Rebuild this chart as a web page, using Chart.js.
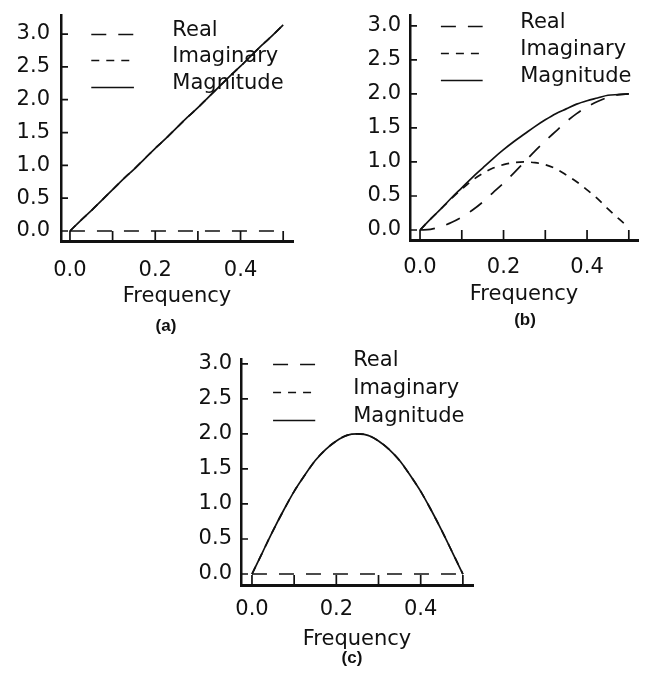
<!DOCTYPE html>
<html>
<head>
<meta charset="utf-8">
<script src="https://cdn.jsdelivr.net/npm/chart.js@4.4.1/dist/chart.umd.min.js"></script>
<style>
  body { margin: 0; background: #fff; }
  #wrap { position: relative; width: 646px; height: 674px; }
  canvas { position: absolute; }
  .cap { position: absolute; font: bold 17px "Liberation Sans", Arial, sans-serif; color: #111; transform: translate(-50%, -50%); }
</style>
</head>
<body>
<div id="wrap">
  <canvas id="chartA" width="323" height="310" style="left:0;top:0"></canvas>
  <canvas id="chartB" width="323" height="310" style="left:323px;top:0"></canvas>
  <canvas id="chartC" width="330" height="330" style="left:160px;top:330px"></canvas>
  <div class="cap" style="left:166px;top:326px">(a)</div>
  <div class="cap" style="left:525px;top:320px">(b)</div>
  <div class="cap" style="left:352px;top:658px">(c)</div>
</div>
<script>
// ----------------------
// DATA
// ----------------------

const freq = [0, 0.025, 0.05, 0.075, 0.1, 0.125, 0.15, 0.175, 0.2, 0.225, 0.25,
              0.275, 0.3, 0.325, 0.35, 0.375, 0.4, 0.425, 0.45, 0.475, 0.5];

const seriesNames = ['Real', 'Imaginary', 'Magnitude'];

const xTicks = [0, 0.1, 0.2, 0.3, 0.4, 0.5];
const xTickLabels = ['0.0', '', '0.2', '', '0.4', ''];
const yTicks = [0, 0.5, 1, 1.5, 2, 2.5, 3];
const yTickLabels = ['0.0', '0.5', '1.0', '1.5', '2.0', '2.5', '3.0'];

// (a)
const realA = [0, 0, 0, 0, 0, 0, 0, 0, 0, 0, 0, 0, 0, 0, 0, 0, 0, 0, 0, 0, 0];
const imagA = [0, 0.16, 0.31, 0.47, 0.63, 0.79, 0.94, 1.10, 1.26, 1.41, 1.57,
               1.73, 1.88, 2.04, 2.20, 2.36, 2.51, 2.67, 2.83, 2.98, 3.14];
const magA  = [0, 0.16, 0.31, 0.47, 0.63, 0.79, 0.94, 1.10, 1.26, 1.41, 1.57,
               1.73, 1.88, 2.04, 2.20, 2.36, 2.51, 2.67, 2.83, 2.98, 3.14];

// (b)
const realB = [0, 0.01, 0.05, 0.11, 0.19, 0.29, 0.41, 0.55, 0.69, 0.84, 1.00,
               1.16, 1.31, 1.45, 1.59, 1.71, 1.81, 1.89, 1.95, 1.99, 2.00];
const imagB = [0, 0.16, 0.31, 0.46, 0.60, 0.73, 0.83, 0.91, 0.96, 0.99, 1.00,
               0.99, 0.96, 0.90, 0.81, 0.71, 0.59, 0.46, 0.31, 0.17, 0.04];
const magB  = [0, 0.16, 0.31, 0.47, 0.62, 0.77, 0.91, 1.05, 1.18, 1.30, 1.41,
               1.52, 1.62, 1.71, 1.78, 1.85, 1.90, 1.94, 1.98, 1.99, 2.00];

// (c)
const realC = [0, 0, 0, 0, 0, 0, 0, 0, 0, 0, 0, 0, 0, 0, 0, 0, 0, 0, 0, 0, 0];
const imagC = [0, 0.31, 0.62, 0.91, 1.18, 1.41, 1.62, 1.78, 1.90, 1.98, 2.00,
               1.98, 1.90, 1.78, 1.62, 1.41, 1.18, 0.91, 0.62, 0.31, 0];
const magC  = [0, 0.31, 0.62, 0.91, 1.18, 1.41, 1.62, 1.78, 1.90, 1.98, 2.00,
               1.98, 1.90, 1.78, 1.62, 1.41, 1.18, 0.91, 0.62, 0.31, 0];

// ----------------------
// STYLE
// ----------------------

const INK = '#111';
const FONT = "'DejaVu Sans', sans-serif";

// tick marks point into the plot
const innerTicks = {
  id: 'innerTicks',
  afterDatasetsDraw(chart) {
    const { ctx, chartArea: a, scales: { x, y } } = chart;
    ctx.save();
    ctx.strokeStyle = INK;
    ctx.lineWidth = 1.7;
    ctx.beginPath();
    xTicks.forEach(v => {
      const px = x.getPixelForValue(v);
      ctx.moveTo(px, a.bottom);
      ctx.lineTo(px, a.bottom - 10);
    });
    yTicks.forEach(v => {
      const py = y.getPixelForValue(v);
      ctx.moveTo(a.left, py);
      ctx.lineTo(a.left + 7, py);
    });
    ctx.stroke();
    ctx.restore();
  }
};

// legend sits inside the plot, placed in data units
const lineLegend = {
  id: 'lineLegend',
  afterDatasetsDraw(chart, args, opts) {
    const { ctx, scales: { x, y } } = chart;
    ctx.save();
    chart.data.datasets.forEach((ds, i) => {
      const py = Math.round(y.getPixelForValue(opts.rows[i])) + 0.5;
      ctx.strokeStyle = INK;
      ctx.lineWidth = 1.7;
      ctx.setLineDash(ds.borderDash || []);
      ctx.beginPath();
      ctx.moveTo(x.getPixelForValue(opts.x0), py);
      ctx.lineTo(x.getPixelForValue(opts.x1), py);
      ctx.stroke();
      ctx.setLineDash([]);
      ctx.fillStyle = INK;
      ctx.font = '21px ' + FONT;
      ctx.textBaseline = 'alphabetic';
      ctx.fillText(ds.label, x.getPixelForValue(opts.textX), py + 1);
    });
    ctx.restore();
  }
};

function makeChart(id, real, imag, mag, v) {
  const pts = arr => freq.map((f, i) => ({ x: f, y: arr[i] }));
  return new Chart(document.getElementById(id), {
    type: 'line',
    data: {
      datasets: [
        { label: seriesNames[0], data: pts(real), borderDash: [15, 12], order: 1 },
        { label: seriesNames[1], data: pts(imag), borderDash: [8, 7], order: 2 },
        { label: seriesNames[2], data: pts(mag), order: 0 }
      ]
    },
    options: {
      responsive: false,
      animation: false,
      layout: { padding: v.pad },
      elements: {
        point: { radius: 0 },
        line: { borderWidth: 1.7, borderColor: INK, cubicInterpolationMode: 'monotone', fill: false }
      },
      plugins: {
        legend: { display: false },
        tooltip: { enabled: false },
        lineLegend: { rows: [3.0, 2.6, 2.2], x0: 0.05, x1: 0.15, textX: 0.24 }
      },
      scales: {
        x: {
          type: 'linear',
          min: v.xMin,
          max: v.xMax,
          afterBuildTicks: s => { s.ticks = xTicks.map(t => ({ value: t })); },
          afterFit: s => { s.height = v.xH; s.paddingLeft = 0; s.paddingRight = 0; },
          ticks: {
            callback: (val, i) => xTickLabels[i],
            padding: v.xPad,
            color: INK,
            font: { family: FONT, size: 21 },
            maxRotation: 0,
            autoSkip: false
          },
          grid: { drawOnChartArea: false, drawTicks: false },
          border: { color: INK, width: 3 },
          title: { display: true, text: 'Frequency', color: INK, font: { family: FONT, size: 21 }, padding: 0 }
        },
        y: {
          type: 'linear',
          min: v.yMin,
          max: v.yMax,
          afterBuildTicks: s => { s.ticks = yTicks.map(t => ({ value: t })); },
          afterFit: s => { s.width = v.yW; s.paddingTop = 0; s.paddingBottom = 0; },
          ticks: {
            callback: (val, i) => yTickLabels[i],
            padding: v.yPad,
            color: INK,
            font: { family: FONT, size: 21 }
          },
          grid: { drawOnChartArea: false, drawTicks: false },
          border: { color: INK, width: 2.5 }
        }
      }
    },
    plugins: [innerTicks, lineLegend]
  });
}

makeChart('chartA', realA, imagA, magA, {
  pad: { left: 0, top: 15, right: 30, bottom: 1 },
  xMin: -0.021, xMax: 0.523, yMin: -0.152, yMax: 3.29,
  yW: 61, xH: 68, xPad: 17, yPad: 11
});

makeChart('chartB', realB, imagB, magB, {
  pad: { left: 0, top: 15, right: 8, bottom: 3 },
  xMin: -0.024, xMax: 0.522, yMin: -0.147, yMax: 3.16,
  yW: 87, xH: 67, xPad: 15, yPad: 9
});

makeChart('chartC', realC, imagC, magC, {
  pad: { left: 0, top: 29, right: 17, bottom: 8 },
  xMin: -0.026, xMax: 0.524, yMin: -0.157, yMax: 3.07,
  yW: 81, xH: 67, xPad: 12, yPad: 9
});
</script>
</body>
</html>
